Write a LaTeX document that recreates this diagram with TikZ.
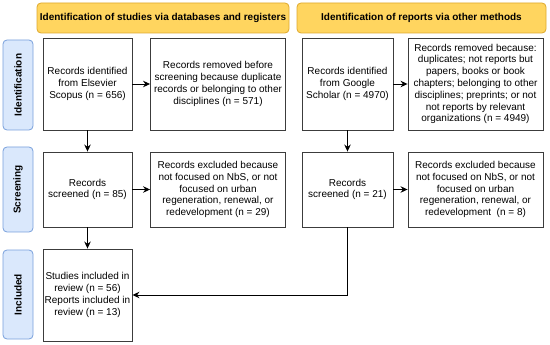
\documentclass[tikz,border=0pt]{standalone}
\usepackage{fontspec}
\setmainfont{Liberation Sans}
\usetikzlibrary{arrows.meta}
\definecolor{hdrfill}{RGB}{255,213,95}
\definecolor{hdrdraw}{RGB}{222,168,45}
\definecolor{sidefill}{RGB}{218,232,252}
\definecolor{sidedraw}{RGB}{120,160,220}
\definecolor{boxdraw}{RGB}{60,60,60}
\begin{document}
\begin{tikzpicture}[x=1pt,y=-1pt,
  every node/.style={font=\fontsize{10}{11.8}\selectfont, inner sep=0pt, align=center},
  hdr/.style={draw=hdrdraw, fill=hdrfill, line width=0.8pt, rounded corners=4pt, font=\fontsize{10}{12}\selectfont\bfseries, minimum height=30pt},
  side/.style={draw=sidedraw, fill=sidefill, line width=0.8pt, rounded corners=4pt, rotate=90, font=\fontsize{10}{12}\selectfont\bfseries, minimum height=30pt},
  pbox/.style={draw=boxdraw, line width=0.9pt, fill=white},
  conn/.style={draw=black, line width=0.9pt, -{Stealth[length=7pt,width=6.5pt]}}
]
\useasboundingbox (0,0) rectangle (550,345);
% headers
\node[hdr, minimum width=252pt] (h1) at (163,18) {Identification of studies via databases and registers};
\node[hdr, minimum width=249pt] (h2) at (421.5,18) {Identification of reports via other methods};
% side labels
\node[side, minimum width=90pt] (s1) at (18,85) {Identification};
\node[side, minimum width=85pt] (s2) at (18,189.5) {Screening};
\node[side, minimum width=89pt] (s3) at (18,294.5) {Included};
% boxes
\node[pbox, minimum width=89pt, minimum height=92pt] (A) at (87.5,84) {Records identified\\from Elsevier\\Scopus (n = 656)};
\node[pbox, minimum width=135pt, minimum height=92pt] (B) at (218,84) {Records removed before\\screening because duplicate\\records or belonging to other\\disciplines (n = 571)};
\node[pbox, minimum width=91pt, minimum height=92pt] (C) at (347.5,84) {Records identified\\from Google\\Scholar (n = 4970)};
\node[pbox, minimum width=135pt, minimum height=92pt] (D) at (475.5,84) {Records removed because:\\duplicates; not reports but\\papers, books or book\\chapters; belonging to other\\disciplines; preprints; or not\\not reports by relevant\\organizations (n = 4949)};
\node[pbox, minimum width=89pt, minimum height=75pt] (E) at (87.5,189.5) {Records\\screened (n = 85)};
\node[pbox, minimum width=135pt, minimum height=75pt] (F) at (218,189.5) {Records excluded because\\not focused on NbS, or not\\focused on urban\\regeneration, renewal, or\\redevelopment (n = 29)};
\node[pbox, minimum width=91pt, minimum height=75pt] (G) at (347.5,189.5) {Records\\screened (n = 21)};
\node[pbox, minimum width=135pt, minimum height=75pt] (H) at (475.5,189.5) {Records excluded because\\not focused on NbS, or not\\focused on urban\\regeneration, renewal, or\\redevelopment\ \ (n = 8)};
\node[pbox, minimum width=89pt, minimum height=92pt] (I) at (87.5,295) {Studies included in\\review (n = 56)\\Reports included in\\review (n = 13)};
% connectors
\draw[conn] (A) -- (B);
\draw[conn] (C) -- (D);
\draw[conn] (A) -- (E);
\draw[conn] (C) -- (G);
\draw[conn] (E) -- (F);
\draw[conn] (G) -- (H);
\draw[conn] (E) -- (I);
\coordinate (turn) at (G.south |- I.east);
\draw[conn] (G.south) -- (turn) -- (I.east);
\end{tikzpicture}
\end{document}
